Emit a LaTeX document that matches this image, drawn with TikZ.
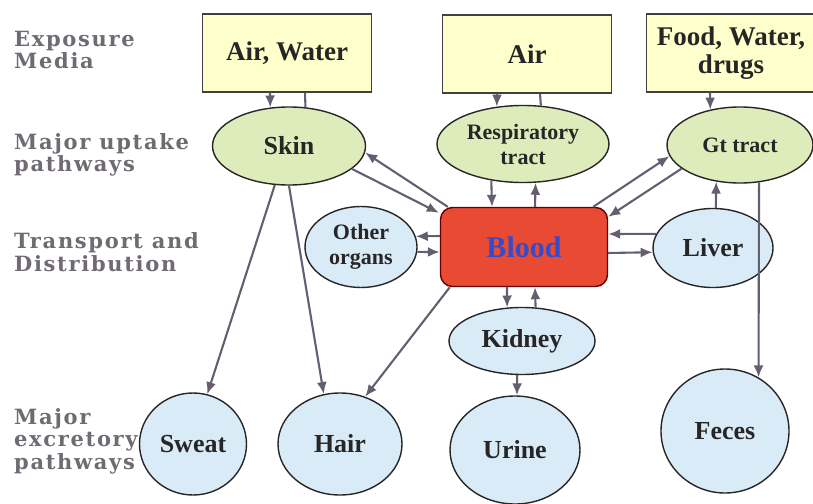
\documentclass[tikz,border=0pt]{standalone}
\usepackage{fontspec}
\setmainfont{Liberation Serif}
\newfontfamily\sidefont[LetterSpace=8]{DejaVu Serif}
\usetikzlibrary{shapes.geometric,arrows.meta}
\definecolor{mediayellow}{RGB}{255,255,204}
\definecolor{uptakegreen}{RGB}{222,236,188}
\definecolor{organblue}{RGB}{218,235,248}
\definecolor{bloodred}{RGB}{232,74,52}
\definecolor{bloodtext}{RGB}{55,75,200}
\definecolor{flowgray}{RGB}{100,95,112}
\definecolor{levelgray}{RGB}{112,106,114}

\begin{document}
\begin{tikzpicture}[x=1pt, y=-1pt,
                    every node/.style = {align=center, text=black!85},
                    media/.style = {shape=rectangle, draw=black!75,
                    line width=1.2pt, fill=mediayellow,
                    minimum width=169pt, minimum height=78pt,
                    font=\bfseries\fontsize{27}{28}\selectfont},
                    uptake/.style = {shape=ellipse, draw=black!85,
                    line width=1.4pt, fill=uptakegreen, inner sep=0pt,
                    font=\bfseries\fontsize{26}{28}\selectfont},
                    organ/.style = {uptake, fill=organblue},
                    smalltext/.style = {font=\bfseries\fontsize{22}{25}\selectfont},
                    bloodbox/.style = {shape=rectangle, rounded corners=12pt,
                    draw=black!60!red, line width=1.4pt, fill=bloodred,
                    minimum width=167pt, minimum height=79pt, text=bloodtext,
                    font=\bfseries\fontsize{30}{32}\selectfont},
                    level/.style = {anchor=west, align=left, inner sep=0pt,
                    text=levelgray, font=\sidefont\bfseries\fontsize{21}{22.5}\selectfont},
                    flow/.style = {draw=flowgray, line width=2.1pt,
                    -{Latex[length=12pt,width=10pt]}},
                    link/.style = {draw=flowgray, line width=2.1pt}]
  \useasboundingbox (0,0) rectangle (813,503);

  % row labels
  \node[level] (exposure) at (14,50) {Exposure\\Media};
  \node[level] (uptakelbl) at (14,155) {Major uptake\\pathways};
  \node[level] (transport) at (14,252) {Transport and\\Distribution};
  \node[level] (excretory) at (14,441) {Major\\excretory\\pathways};

  % exposure media
  \node[media] (airwater) at (287,53) {Air, Water};
  \node[media] (air) at (527,54) {Air};
  \node[media] (food) at (731,53) {Food, Water,\\drugs};

  % uptake pathways
  \node[uptake, minimum width=153pt, minimum height=78pt] (skin) at (289,146) {Skin};
  \node[uptake, smalltext, minimum width=172pt, minimum height=77pt] (resp) at (523,144) {Respiratory\\tract};
  \node[uptake, smalltext, minimum width=146pt, minimum height=76pt] (gt) at (740,145) {Gt tract};

  % transport and distribution
  \node[bloodbox] (blood) at (524,247) {Blood};
  \node[organ, smalltext, minimum width=112pt, minimum height=81pt] (other) at (361,247) {Other\\organs};
  \node[organ, minimum width=120pt, minimum height=79pt] (liver) at (713,248) {Liver};
  \node[organ, minimum width=146pt, minimum height=67pt] (kidney) at (522,341) {Kidney};

  % excretory pathways
  \node[organ, minimum width=107pt, minimum height=102pt] (sweat) at (193,444) {Sweat};
  \node[organ, minimum width=124pt, minimum height=102pt] (hair) at (340,444) {Hair};
  \node[organ, minimum width=130pt, minimum height=108pt] (urine) at (515,450) {Urine};
  \node[organ, minimum width=128pt, minimum height=124pt] (feces) at (725,431) {Feces};

  \draw[flow] ([xshift=-17pt]airwater.south) -- (skin.116.7);
  \draw[link] ([xshift=18pt]airwater.south) -- (skin.67.2);
  \draw[flow] ([xshift=-30pt]air.south) -- (resp.125.3);
  \draw[link] ([xshift=13pt]air.south) -- (resp.65.7);
  \draw[flow] ([xshift=-21pt]food.south) -- (gt.130.4);

  \draw[flow] (resp.229.2) -- ([xshift=-32pt]blood.north);
  \draw[flow] ([xshift=11pt]blood.north) -- (resp.-72.5);
  \draw[flow] ([xshift=8pt]blood.north west) -- (skin.-5.3);
  \draw[flow] (skin.-20.7) -- ([xshift=-1pt,yshift=-6pt]blood.north west);
  \draw[flow] ([xshift=-15pt]blood.north east) -- (gt.189.7);
  \draw[flow] (gt.202.6) -- ([yshift=-10pt]blood.north east);
  \draw[flow] (liver.166) -- ([yshift=13pt]blood.east);
  \draw[flow] ([yshift=-6pt]blood.east) -- (liver.184.8);
  \draw[flow] ([yshift=11pt]blood.west) -- (other.11.5);
  \draw[flow] (other.-5.1) -- ([yshift=-5pt]blood.west);
  \draw[flow] (liver.86) -- (gt.-123.8);

  \draw[flow] (gt.-63.9) -- (feces.58.1);
  \draw[flow] ([xshift=-17pt]blood.south) -- (kidney.114.6);
  \draw[flow] (kidney.68.5) -- ([xshift=11pt]blood.south);
  \draw[flow] (kidney.-98.5) -- (urine.88);
  \draw[flow] (skin.-110.1) -- (sweat.74);
  \draw[flow] (skin.south) -- (hair.108);
  \draw[flow] ([xshift=10pt]blood.south west) -- (hair.62.5);
\end{tikzpicture}
\end{document}
